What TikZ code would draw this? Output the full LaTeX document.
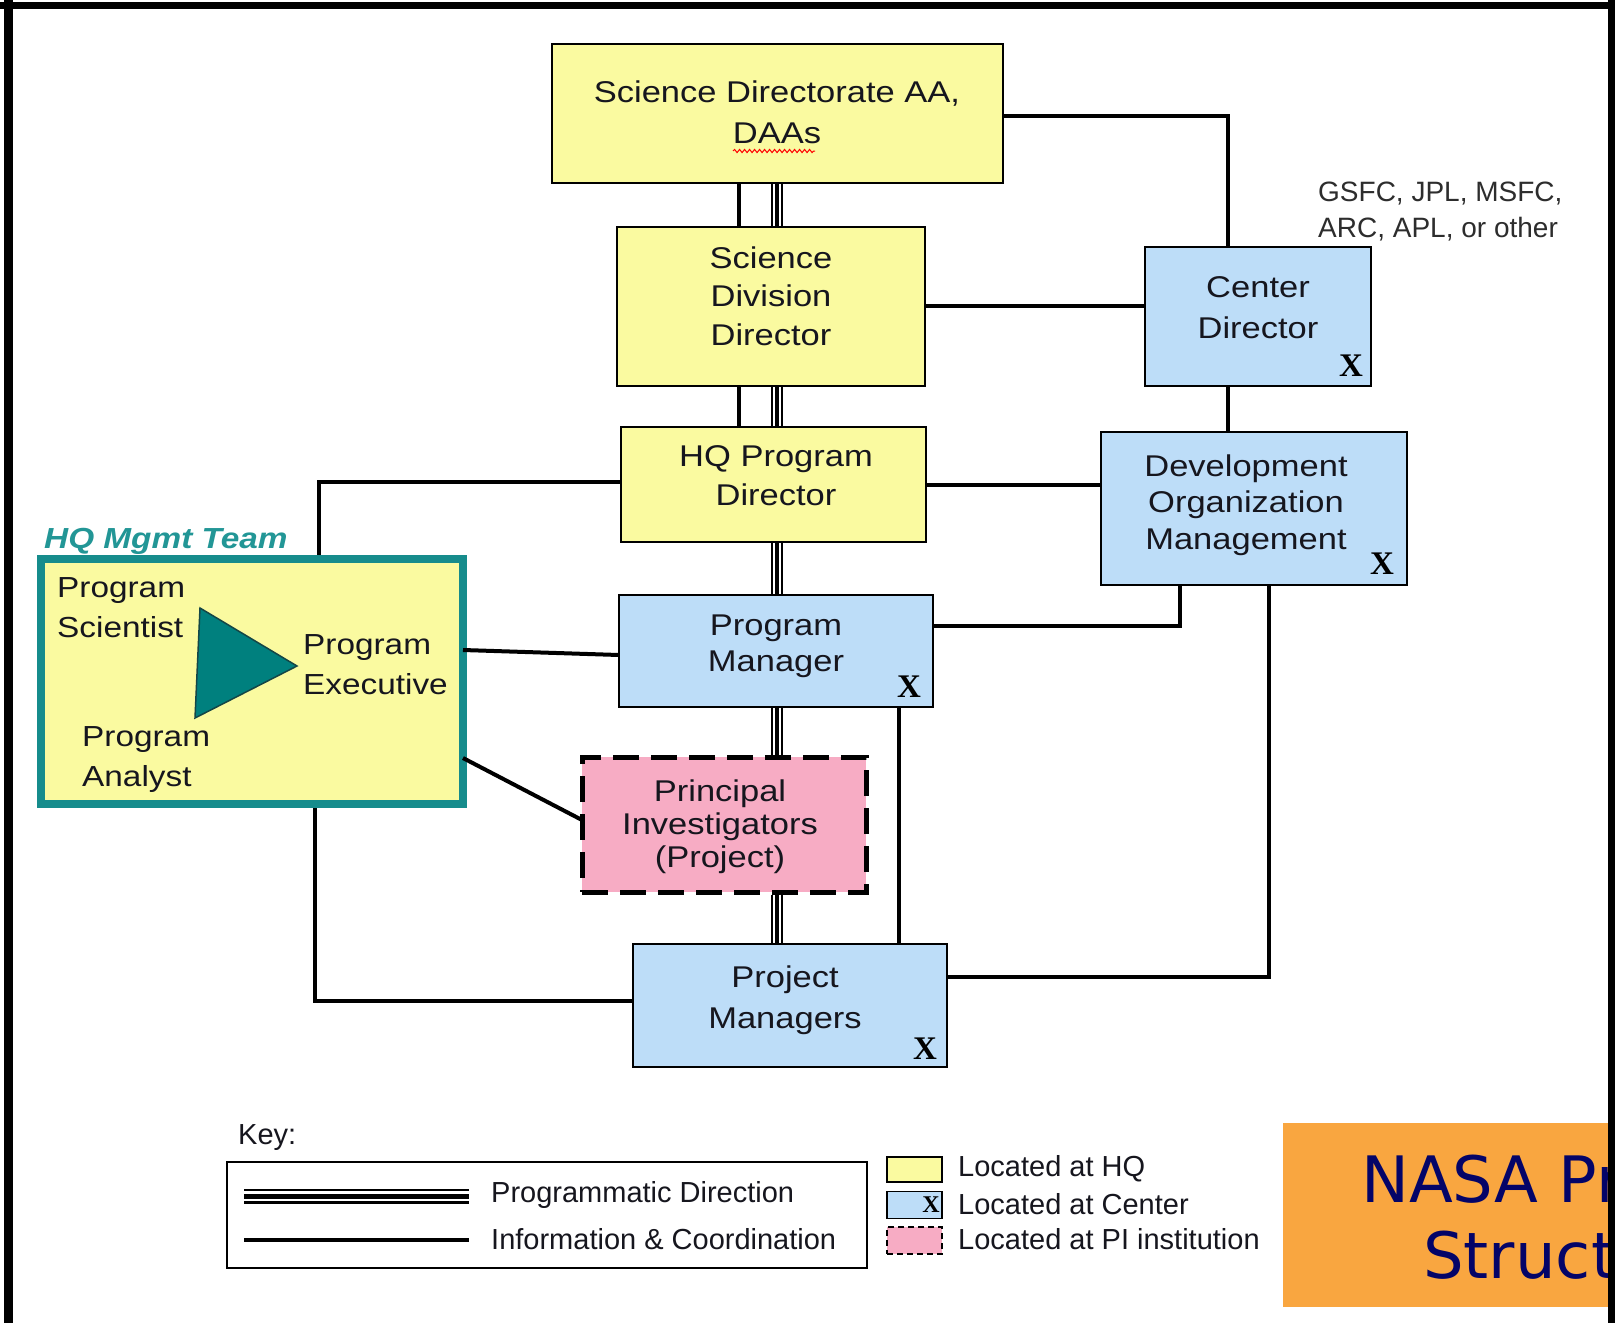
\documentclass[tikz,border=0pt]{standalone}
\usepackage{fontspec}
\setmainfont{Liberation Sans}
\newfontfamily\boxfont{Liberation Sans}[FakeStretch=1.15]
\newfontfamily\xfont{Liberation Serif}
\newfontfamily\nasafont{DejaVu Sans}
\usetikzlibrary{decorations.pathmorphing}
\definecolor{hqyellow}{RGB}{250,250,160}
\definecolor{cblue}{RGB}{189,221,248}
\definecolor{pipink}{RGB}{247,172,196}
\definecolor{teamteal}{RGB}{22,140,140}
\definecolor{labteal}{RGB}{34,150,150}
\definecolor{trifill}{RGB}{0,128,126}
\definecolor{tridark}{RGB}{20,70,70}
\definecolor{orangebox}{RGB}{249,166,64}
\definecolor{navytext}{RGB}{4,4,104}
\definecolor{textdark}{RGB}{22,22,30}
\definecolor{graytext}{RGB}{45,45,45}
\tikzset{
  box/.style={draw=black, line width=2pt, inner sep=0pt},
  ybox/.style={box, fill=hqyellow},
  bbox/.style={box, fill=cblue},
  txt/.style={font=\boxfont\fontsize{30}{#1}\selectfont, align=center, text=textdark, inner sep=0pt},
  hqtxt/.style={font=\boxfont\fontsize{29}{40}\selectfont, align=left, text=textdark, inner sep=0pt, anchor=west},
  legtxt/.style={font=\fontsize{29}{35}\selectfont, text=textdark, inner sep=0pt, anchor=west},
  xmark/.style={font=\xfont\bfseries\fontsize{33}{33}\selectfont, text=black, inner sep=0pt},
  info/.style={draw=black, line width=4pt},
  prog/.style={draw=black, line width=12.5pt,
    postaction={draw=white, line width=8pt},
    postaction={draw=black, line width=4pt}},
  progkey/.style={draw=black, line width=15pt,
    postaction={draw=white, line width=10pt},
    postaction={draw=black, line width=5pt}},
}
\begin{document}
\begin{tikzpicture}[x=1pt, y=-1pt]
\clip (0,0) rectangle (1615,1323);
\fill[white] (0,0) rectangle (1615,1323);

% ---- boxes ----
\node[ybox, minimum width=451pt, minimum height=139pt] (sda) at (777.5,113.5) {};
\node[ybox, minimum width=308pt, minimum height=159pt] (sdd) at (771,306.5) {};
\node[ybox, minimum width=305pt, minimum height=115pt] (hqpd) at (773.5,484.5) {};
\node[bbox, minimum width=314pt, minimum height=112pt] (pm) at (776,651) {};
\node[fill=pipink, draw=black, line width=5pt, dash pattern=on 26pt off 12pt, inner sep=0pt,
      minimum width=284pt, minimum height=135pt] (pi) at (724,824.5) {};
\node[bbox, minimum width=314pt, minimum height=123pt] (prm) at (790,1005.5) {};
\node[bbox, minimum width=226pt, minimum height=139pt] (cd) at (1258,316.5) {};
\node[bbox, minimum width=306pt, minimum height=153pt] (dom) at (1254,508.5) {};
\node[fill=hqyellow, draw=teamteal, line width=8pt, inner sep=0pt,
      minimum width=422pt, minimum height=245pt] (hqm) at (252,681.5) {};

% ---- helper coordinates ----
\coordinate (xl) at (739,0);
\coordinate (xs) at (777,0);
\coordinate (xc) at (1228,0);
\coordinate (xd) at (1180,0);
\coordinate (xq) at (319,0);
\coordinate (xb) at (315,0);
\coordinate (xp) at (899,0);
\coordinate (xr) at (1269,0);
\coordinate (y1) at (0,116);
\coordinate (y2) at (0,306);
\coordinate (y3) at (0,485);
\coordinate (y4) at (0,482);
\coordinate (y5) at (0,626);
\coordinate (y6) at (0,1001);
\coordinate (y7) at (0,977);
\coordinate (hqa) at (463,650);
\coordinate (pma) at (619,655);
\coordinate (hqb) at (463,758);
\coordinate (pia) at (582,820);

% ---- information & coordination ----
\draw[info] (sda.south -| xl) -- (sdd.north -| xl);
\draw[info] (sdd.south -| xl) -- (hqpd.north -| xl);
\draw[info] (sda.east |- y1) -| (cd.north -| xc);
\draw[info] (sdd.east |- y2) -- (cd.west |- y2);
\draw[info] (cd.south -| xc) -- (dom.north -| xc);
\draw[info] (hqpd.east |- y3) -- (dom.west |- y3);
\draw[info] (hqpd.west |- y4) -| (hqm.north -| xq);
\draw[info] (hqa) -- (pma);
\draw[info] (pm.east |- y5) -| (dom.south -| xd);
\draw[info] (hqb) -- (pia);
\draw[info] (pm.south -| xp) -- (prm.north -| xp);
\draw[info] (hqm.south -| xb) |- (prm.west |- y6);
\draw[info] (dom.south -| xr) |- (prm.east |- y7);

% ---- programmatic direction ----
\draw[prog] (sda.south -| xs) -- (sdd.north -| xs);
\draw[prog] (sdd.south -| xs) -- (hqpd.north -| xs);
\draw[prog] (hqpd.south -| xs) -- (pm.north -| xs);
\draw[prog] (pm.south -| xs) -- (pi.north -| xs);
\draw[prog] (pi.south -| xs) -- (prm.north -| xs);

% ---- box texts ----
\node[txt=41] (sdat) at (777,112) {Science Directorate AA,\\DAAs};
\draw[red, line width=1pt, decorate, decoration={snake, amplitude=1.6pt, segment length=5pt}] (733,151) -- (815,151);
\node[txt=38.5] (sddt) at (771,296) {Science\\Division\\Director};
\node[txt=39] (hqpdt) at (776,476) {HQ Program\\Director};
\node[txt=36] (pmt) at (776,646) {Program\\Manager};
\node[txt=33] (pit) at (720,827) {Principal\\Investigators\\(Project)};
\node[txt=41] (prmt) at (785,1000) {Project\\Managers};
\node[txt=41] (cdt) at (1258,308) {Center\\Director};
\node[txt=36.5] (domt) at (1246,505) {Development\\Organization\\Management};

\node[xmark] (x1) at (1351,366) {X};
\node[xmark] (x2) at (1382,564) {X};
\node[xmark] (x3) at (909,687) {X};
\node[xmark] (x4) at (925,1049) {X};

\node[font=\fontsize{28}{36}\selectfont, text=graytext, align=left, inner sep=0pt, anchor=west] (gsfc) at (1318,212) {GSFC, JPL, MSFC,\\ARC, APL, or other};

% ---- HQ management team ----
\node[font=\boxfont\bfseries\itshape\fontsize{29}{29}\selectfont, text=labteal, inner sep=0pt, anchor=west] (team) at (44,541) {HQ Mgmt Team};
\filldraw[fill=trifill, draw=tridark, line width=1.5pt] (200,608) -- (297,666) -- (195,718) -- cycle;
\node[hqtxt] (psci) at (57,608) {Program\\Scientist};
\node[hqtxt] (pexe) at (303,665) {Program\\Executive};
\node[hqtxt] (pana) at (82,760) {Program\\Analyst};

% ---- key ----
\node[legtxt] (key) at (238,1138) {Key:};
\node[draw=black, line width=2pt, inner sep=0pt, minimum width=640pt, minimum height=106pt] (legbox) at (547,1215) {};
\coordinate (lpa) at (244,1196);
\coordinate (lpb) at (469,1196);
\coordinate (lia) at (244,1240);
\coordinate (lib) at (469,1240);
\draw[progkey] (lpa) -- (lpb);
\draw[info] (lia) -- (lib);
\node[legtxt] (lt1) at (491,1195) {Programmatic Direction};
\node[legtxt] (lt2) at (491,1239) {Information \& Coordination};

\node[fill=hqyellow, draw=black, line width=1.5pt, inner sep=0pt, minimum width=55pt, minimum height=25pt] (sw1) at (914.5,1169.5) {};
\node[fill=cblue, draw=black, line width=1.5pt, inner sep=0pt, minimum width=55pt, minimum height=27pt] (sw2) at (914.5,1205) {};
\node[font=\xfont\bfseries\fontsize{24}{24}\selectfont, inner sep=0pt] (swx) at (931,1205) {X};
\node[fill=pipink, draw=black, line width=1.5pt, dash pattern=on 6pt off 4pt, inner sep=0pt, minimum width=55pt, minimum height=27pt] (sw3) at (914.5,1240.5) {};
\node[legtxt] (lt3) at (958,1169) {Located at HQ};
\node[legtxt] (lt4) at (958,1204) {Located at Center};
\node[legtxt] (lt5) at (958,1239) {Located at PI institution};

% ---- title box (cut off at the right edge, as in the reference) ----
\fill[orangebox] (1283,1123) rectangle (1615,1307);
\node[font=\nasafont\fontsize{64}{77}\selectfont, text=navytext, inner sep=0pt, anchor=base west] (nasa1) at (1361,1202) {NASA Pr};
\node[font=\nasafont\fontsize{64}{77}\selectfont, text=navytext, inner sep=0pt, anchor=base west] (nasa2) at (1423,1278) {Struct};

% ---- outer frame ----
\fill[black] (4,0) rectangle (13,1323);
\fill[black] (0,2) rectangle (1615,9);
\fill[black] (1608,0) rectangle (1615,1323);
\end{tikzpicture}
\end{document}
